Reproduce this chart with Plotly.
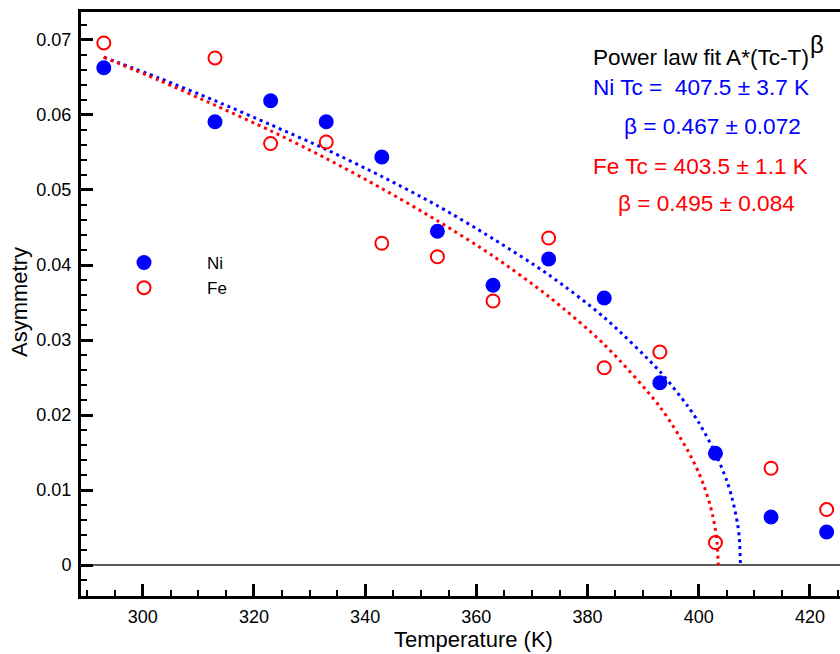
import plotly.graph_objects as go

# ---- data ----
temps = [293, 313, 323, 333, 343, 353, 363, 373, 383, 393, 403, 413, 423]
ni_asym = [0.0663, 0.0591, 0.0619, 0.0591, 0.0544, 0.0445, 0.0373, 0.0408,
           0.0356, 0.0243, 0.0149, 0.0064, 0.0044]
fe_asym = [0.0696, 0.0676, 0.0562, 0.0564, 0.0429, 0.0411, 0.0352, 0.0436,
           0.0263, 0.0284, 0.0030, 0.0129, 0.0074]

# power-law fit curves
ni_fit_t = [293, 303, 313, 323, 333, 343, 353, 363, 373, 383, 393, 398, 400,
            403, 405, 406, 407, 407.3, 407.5]
ni_fit_a = [0.0677, 0.0649, 0.0619, 0.0587, 0.0554, 0.0518, 0.0479, 0.0435,
            0.0387, 0.0330, 0.0258, 0.0212, 0.0190, 0.0149, 0.0113, 0.0089,
            0.0054, 0.0035, 0.0]
fe_fit_t = [293, 303, 313, 323, 333, 343, 353, 363, 373, 383, 393, 398, 400,
            401, 402, 402.5, 403, 403.3, 403.5]
fe_fit_a = [0.0677, 0.0646, 0.0613, 0.0579, 0.0542, 0.0502, 0.0459, 0.0412,
            0.0358, 0.0294, 0.0211, 0.0153, 0.0123, 0.0104, 0.0081, 0.0066,
            0.0047, 0.0030, 0.0]

x_tick_vals = [300, 320, 340, 360, 380, 400, 420]
y_tick_vals = [0, 0.01, 0.02, 0.03, 0.04, 0.05, 0.06, 0.07]

BLUE = "#0000FF"
RED = "#FF0000"
FONT = "Liberation Sans, Arial, Helvetica, sans-serif"

W, H = 840, 654
L, R, T, B = 81, 0, 12, 58
PW, PH = W - L - R, H - T - B


def px_x(px):
    return (px - L) / PW


def px_y(py):
    return (H - B - py) / PH


fig = go.Figure()

fig.add_trace(go.Scatter(x=ni_fit_t, y=ni_fit_a, mode="lines", showlegend=False,
                         line=dict(color=BLUE, width=3, dash="3px,4px", shape="spline",
                                   smoothing=0.8), hoverinfo="skip"))
fig.add_trace(go.Scatter(x=fe_fit_t, y=fe_fit_a, mode="lines", showlegend=False,
                         line=dict(color=RED, width=3, dash="3px,4px", shape="spline",
                                   smoothing=0.8), hoverinfo="skip"))

fig.add_trace(go.Scatter(x=temps, y=ni_asym, mode="markers", name="Ni",
                         marker=dict(symbol="circle", size=15, color=BLUE,
                                     line=dict(width=0))))
fig.add_trace(go.Scatter(x=temps, y=fe_asym, mode="markers", name="Fe",
                         marker=dict(symbol="circle-open", size=13, color=RED,
                                     line=dict(width=2, color=RED))))

axis_common = dict(
    showgrid=False,
    showline=True,
    linecolor="black",
    linewidth=3,
    ticks="inside",
    tickcolor="black",
    tickwidth=2.5,
    ticklen=12,
    tickfont=dict(family=FONT, size=18, color="black"),
)

fig.update_xaxes(
    range=[288.9, 425.4],
    tickvals=x_tick_vals,
    ticktext=[str(v) for v in x_tick_vals],
    mirror=True,
    zeroline=False,
    ticklabelstandoff=2,
    minor=dict(dtick=5, tick0=0, ticks="inside", ticklen=6, tickwidth=1.5,
               tickcolor="black", showgrid=False),
    **axis_common,
)
fig.update_yaxes(
    range=[-0.00413, 0.07373],
    tickvals=y_tick_vals,
    ticktext=["0", "0.01", "0.02", "0.03", "0.04", "0.05", "0.06", "0.07"],
    zeroline=True,
    zerolinecolor="#5a5a5a",
    zerolinewidth=2,
    ticklabelstandoff=3,
    minor=dict(dtick=0.002, tick0=0, ticks="inside", ticklen=6, tickwidth=1.5,
               tickcolor="black", showgrid=False),
    **axis_common,
)

ANN = 22.6
annotations = [
    dict(text="Temperature (K)", x=px_x(473.5), y=px_y(639), xanchor="center",
         yanchor="middle", font=dict(size=22, color="black")),
    dict(text="Asymmetry", x=px_x(19), y=px_y(302), xanchor="center",
         yanchor="middle", textangle=-90, font=dict(size=22, color="black")),
    dict(text="Power law fit A*(Tc-T)", x=px_x(591), y=px_y(58), xanchor="left",
         yanchor="middle", font=dict(size=ANN, color="black")),
    dict(text="β", x=px_x(817), y=px_y(45), xanchor="center",
         yanchor="middle", font=dict(size=24, color="black")),
    dict(text="Ni Tc =  407.5 ± 3.7 K", x=px_x(591), y=px_y(87), xanchor="left",
         yanchor="middle", font=dict(size=ANN, color=BLUE)),
    dict(text="β = 0.467 ± 0.072", x=px_x(622), y=px_y(126), xanchor="left",
         yanchor="middle", font=dict(size=ANN, color=BLUE)),
    dict(text="Fe Tc = 403.5 ± 1.1 K", x=px_x(591), y=px_y(166), xanchor="left",
         yanchor="middle", font=dict(size=ANN, color=RED)),
    dict(text="β = 0.495 ± 0.084", x=px_x(616), y=px_y(203), xanchor="left",
         yanchor="middle", font=dict(size=ANN, color=RED)),
]
for a in annotations:
    a.update(xref="paper", yref="paper", showarrow=False)

fig.update_layout(
    width=W, height=H,
    margin=dict(l=L, r=R, t=T, b=B, pad=0),
    paper_bgcolor="white",
    plot_bgcolor="white",
    font=dict(family=FONT, color="black"),
    annotations=annotations,
    showlegend=True,
    legend=dict(x=px_x(81), y=px_y(245), xanchor="left", yanchor="top",
                bgcolor="rgba(0,0,0,0)", font=dict(size=17, color="black"),
                itemwidth=116, tracegroupgap=0),
)

fig.write_html("out.html",
               config={"displayModeBar": False},
               post_script="document.body.style.margin='0';document.body.style.overflow='hidden';")
